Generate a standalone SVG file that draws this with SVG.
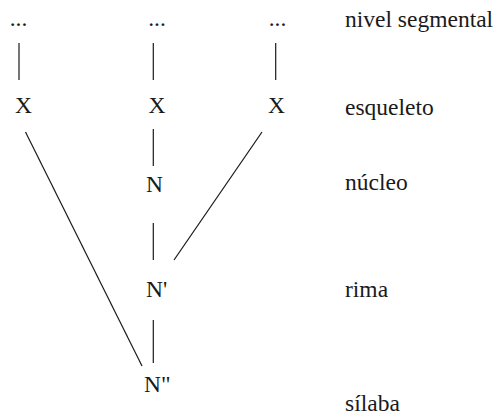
<svg xmlns="http://www.w3.org/2000/svg" width="495" height="416" viewBox="0 0 495 416">
<style>
text{font-family:"Liberation Serif","Times New Roman",serif;font-size:23.5px;fill:#1a1a1a}
.c line{stroke:#1a1a1a;stroke-width:1.2;fill:none}
</style>
<rect width="495" height="416" fill="#ffffff"/>
<g id="connectors" class="c">
<line x1="19" y1="43" x2="19" y2="80"/>
<line x1="153.3" y1="43" x2="153.3" y2="80"/>
<line x1="275.7" y1="43" x2="275.7" y2="80"/>
<line x1="25.5" y1="132" x2="142" y2="366"/>
<line x1="153.3" y1="129" x2="153.3" y2="166"/>
<line x1="153.3" y1="223" x2="153.3" y2="260"/>
<line x1="262" y1="132" x2="174" y2="260"/>
<line x1="153.3" y1="320" x2="153.3" y2="363"/>
</g>
<g id="dots1"><text x="18.5" y="26" text-anchor="middle">...</text></g>
<g id="dots2"><text x="157" y="26" text-anchor="middle">...</text></g>
<g id="dots3"><text x="277.5" y="26" text-anchor="middle">...</text></g>
<g id="x1"><text x="15" y="113">X</text></g>
<g id="x2"><text x="148.5" y="113">X</text></g>
<g id="x3"><text x="268" y="113">X</text></g>
<g id="n"><text x="146" y="192">N</text></g>
<g id="n1"><text x="146" y="297">N'</text></g>
<g id="n2"><text x="144" y="392">N"</text></g>
<g id="labels">
<text x="345" y="27">nivel segmental</text>
<text x="345" y="115">esqueleto</text>
<text x="345" y="190">núcleo</text>
<text x="345" y="297">rima</text>
<text x="345" y="411">sílaba</text>
</g>
</svg>
